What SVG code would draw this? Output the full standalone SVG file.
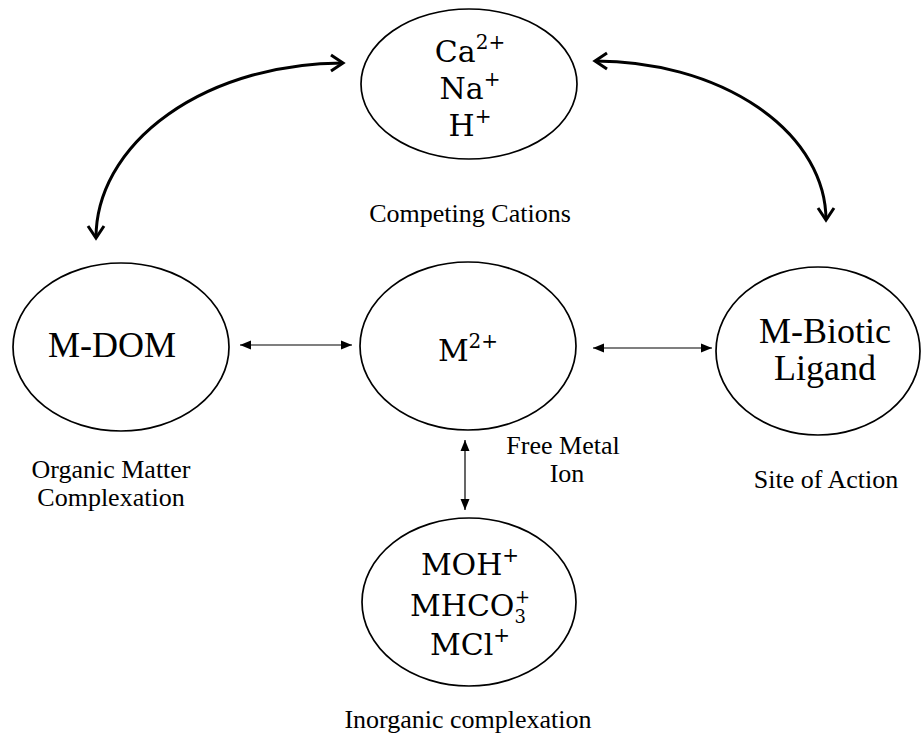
<svg xmlns="http://www.w3.org/2000/svg" width="922" height="740" viewBox="0 0 922 740">
<defs>
<style>
.node{fill:#fff;stroke:#000;stroke-width:1.7}
.lbl{font-family:"Liberation Serif","Times New Roman",serif;fill:#000;text-anchor:middle}
.math{font-family:"DejaVu Serif",serif;fill:#000;text-anchor:middle;font-size:30px}
.big{font-size:36px}
.cap{font-size:26px}
.thin{fill:none;stroke:#000;stroke-width:1.2;marker-start:url(#tri);marker-end:url(#tri)}
.curve{fill:none;stroke:#000;stroke-width:3;marker-start:url(#chev);marker-end:url(#chev)}
</style>
<marker id="tri" markerUnits="userSpaceOnUse" markerWidth="14" markerHeight="12" viewBox="-12 -6 14 12" refX="0" refY="0" orient="auto-start-reverse">
<path d="M-11,-4.5 L0,0 L-11,4.5 Z" fill="#000"/>
</marker>
<marker id="chev" markerUnits="userSpaceOnUse" markerWidth="24" markerHeight="24" viewBox="-16 -12 20 24" refX="0" refY="0" orient="auto-start-reverse">
<path d="M-12,-8 L0,0 L-12,8" fill="none" stroke="#000" stroke-width="3"/>
</marker>
</defs>
<rect width="922" height="740" fill="#fff"/>
<g id="connectors">
<path class="curve" d="M343,63 A247,175 0 0 0 96,238"/>
<path class="curve" d="M595,61 A231,159 0 0 1 826,220"/>
<line class="thin" x1="240" y1="345" x2="352" y2="345"/>
<line class="thin" x1="593" y1="348" x2="712" y2="348"/>
<line class="thin" x1="465" y1="440" x2="465" y2="510"/>
</g>
<g id="cations">
<ellipse class="node" cx="469" cy="84" rx="108" ry="75"/>
<text class="math" x="470" y="62">Ca<tspan dy="-13" font-size="20">2+</tspan></text>
<text class="math" x="470" y="99">Na<tspan dy="-13" font-size="20">+</tspan></text>
<text class="math" x="470" y="136">H<tspan dy="-13" font-size="20">+</tspan></text>
<text class="lbl cap" x="470" y="222">Competing Cations</text>
</g>
<g id="mdom">
<ellipse class="node" cx="121" cy="347" rx="108" ry="84"/>
<text class="lbl big" x="112" y="357">M-DOM</text>
<text class="lbl cap" x="111" y="478">Organic Matter</text>
<text class="lbl cap" x="111" y="506">Complexation</text>
</g>
<g id="free-metal">
<ellipse class="node" cx="468" cy="346" rx="108" ry="84"/>
<text class="math" x="468" y="361">M<tspan dy="-13" font-size="20">2+</tspan></text>
<text class="lbl cap" x="563" y="454">Free Metal</text>
<text class="lbl cap" x="567" y="482">Ion</text>
</g>
<g id="biotic-ligand">
<ellipse class="node" cx="818" cy="351" rx="102" ry="84"/>
<text class="lbl big" x="825" y="343">M-Biotic</text>
<text class="lbl big" x="825" y="380">Ligand</text>
<text class="lbl cap" x="826" y="488">Site of Action</text>
</g>
<g id="inorganic">
<ellipse class="node" cx="469" cy="602" rx="107" ry="84"/>
<text class="math" x="470" y="575">MOH<tspan dy="-13" font-size="20">+</tspan></text>
<text class="math" x="470" y="616">MHCO<tspan dy="7" font-size="18">3</tspan><tspan dx="-11" dy="-20" font-size="18">+</tspan></text>
<text class="math" x="470" y="655">MCl<tspan dy="-13" font-size="20">+</tspan></text>
<text class="lbl cap" x="468" y="728">Inorganic complexation</text>
</g>
</svg>
